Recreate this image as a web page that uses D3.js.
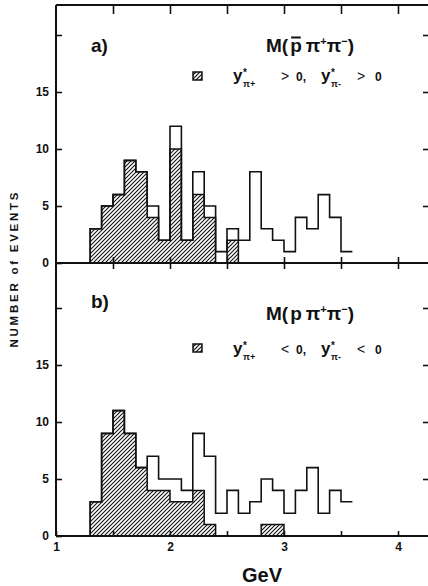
<!DOCTYPE html>
<html>
<head>
<meta charset="utf-8">
<script src="https://cdn.jsdelivr.net/npm/d3@7"></script>
<style>
  html, body { margin: 0; padding: 0; background: #fff; }
  svg { display: block; }
  text { font-family: "Liberation Sans", Arial, sans-serif; fill: #111; }
</style>
</head>
<body>
<svg id="chart" width="428" height="586"></svg>
<script>
// Lower edges of the 0.1 GeV mass bins (GeV)
const binLow = [1.3, 1.4, 1.5, 1.6, 1.7, 1.8, 1.9, 2.0, 2.1, 2.2, 2.3, 2.4,
                2.5, 2.6, 2.7, 2.8, 2.9, 3.0, 3.1, 3.2, 3.3, 3.4, 3.5];
const binWidth = 0.1;

// a) M(p̄ π+ π-): all events and the y* > 0 subset
const aTotal  = [3, 5, 6, 9, 8, 5, 2, 12, 2, 8, 5, 1, 3, 2, 8, 3, 2, 1, 4, 3, 6, 4, 1];
const aHashed = [3, 5, 6, 9, 8, 4, 2, 10, 2, 6, 4, 0, 2, 0, 0, 0, 0, 0, 0, 0, 0, 0, 0];

// b) M(p π+ π-): all events and the y* < 0 subset
const bTotal  = [3, 9, 11, 9, 6, 7, 5, 5, 4, 9, 7, 2, 4, 2, 3, 5, 4, 2, 4, 6, 2, 4, 3];
const bHashed = [3, 9, 11, 9, 6, 4, 4, 3, 3, 4, 1, 0, 0, 0, 0, 1, 1, 0, 0, 0, 0, 0, 0];

const yTicks = [0, 5, 10, 15, 20];
const xTicks = [1, 1.5, 2, 2.5, 3, 3.5, 4];
const xLabels = [1, 2, 3, 4];

const svg = d3.select("#chart");
const ink = "#111";

// Hatch for the selected-rapidity subset
const defs = svg.append("defs");
defs.append("pattern")
  .attr("id", "hatch")
  .attr("patternUnits", "userSpaceOnUse")
  .attr("width", 4).attr("height", 4)
  .append("path")
  .attr("d", "M-1,1 l2,-2 M0,4 l4,-4 M3,5 l2,-2")
  .attr("stroke", ink).attr("stroke-width", 1.1);

const frameL = 56, frameR = 429, frameT = 5;
const x = d3.scaleLinear().domain([1, 4]).range([frameL, 398]);

const panels = [
  { total: aTotal, hashed: aHashed, y: d3.scaleLinear().domain([0, 20]).range([263, 35]),
    tag: "a)", tagY: 52, titleY: 52, legY: 81, swY: 72, sign: ">", bar: true },
  { total: bTotal, hashed: bHashed, y: d3.scaleLinear().domain([0, 20]).range([536, 308]),
    tag: "b)", tagY: 308, titleY: 320, legY: 354, swY: 344, sign: "<", bar: false }
];

// Frame lines
svg.append("line").attr("x1", frameL).attr("x2", frameL).attr("y1", frameT).attr("y2", 536)
  .attr("stroke", ink).attr("stroke-width", 2);
svg.append("line").attr("x1", frameL).attr("x2", frameR).attr("y1", frameT).attr("y2", frameT)
  .attr("stroke", ink).attr("stroke-width", 2);

function styleAxis(g) {
  g.select(".domain").attr("stroke", ink).attr("stroke-width", 2);
  g.selectAll(".tick line").attr("stroke", ink).attr("stroke-width", 1.6);
  g.selectAll(".tick text")
    .attr("font-family", "'Liberation Sans', Arial, sans-serif")
    .attr("font-weight", "bold").attr("font-size", 12).attr("fill", ink);
}

// Top border ticks
svg.append("g").attr("transform", `translate(0,${frameT})`)
  .call(d3.axisBottom(x).tickValues(xTicks.slice(1)).tickSize(9).tickSizeOuter(0).tickFormat(""))
  .call(g => g.select(".domain").remove())
  .call(styleAxis);

panels.forEach((p) => {
  const y = p.y;
  const g = svg.append("g");

  // Hatched subset as a stepped area
  const hashedPts = binLow.map((b, i) => ({ x: b, v: p.hashed[i] }));
  hashedPts.push({ x: binLow[binLow.length - 1] + binWidth, v: 0 });
  const area = d3.area().x(d => x(d.x)).y0(y(0)).y1(d => y(d.v)).curve(d3.curveStepAfter);
  g.append("path").attr("d", area(hashedPts))
    .attr("fill", "url(#hatch)").attr("stroke", ink).attr("stroke-width", 1.5)
    .attr("stroke-linejoin", "miter");

  // Total distribution as an open step outline
  const totPts = [{ x: binLow[0], v: 0 }].concat(binLow.map((b, i) => ({ x: b, v: p.total[i] })));
  totPts.push({ x: binLow[binLow.length - 1] + binWidth, v: p.total[p.total.length - 1] });
  const line = d3.line().x(d => x(d.x)).y(d => y(d.v)).curve(d3.curveStepAfter);
  g.append("path").attr("d", line(totPts))
    .attr("fill", "none").attr("stroke", ink).attr("stroke-width", 1.6);

  // Left axis: ticks inward, labels outside
  svg.append("g").attr("transform", `translate(${frameL},0)`)
    .call(d3.axisLeft(y).tickValues(yTicks).tickSize(-6).tickPadding(7)
      .tickFormat(d => d === 20 ? "" : d))
    .call(a => a.select(".domain").remove())
    .call(styleAxis);

  // Right border ticks
  svg.append("g").attr("transform", `translate(${frameR},0)`)
    .call(d3.axisRight(y).tickValues(yTicks.slice(1)).tickSize(-6).tickFormat(""))
    .call(a => a.select(".domain").remove())
    .call(styleAxis);

  // Panel label
  svg.append("text").attr("x", 91).attr("y", p.tagY)
    .attr("font-weight", "bold").attr("font-size", 19).text(p.tag);

  // Mass title M(p π+ π-)
  const t = svg.append("text").attr("x", 266).attr("y", p.titleY)
    .attr("font-weight", "bold").attr("font-size", 19);
  t.append("tspan").text("M(");
  const pSpan = t.append("tspan").attr("dx", 2).text("p");
  t.append("tspan").attr("dx", 4).text("π");
  t.append("tspan").attr("dy", -7).attr("font-size", 11).text("+");
  t.append("tspan").attr("dy", 7).text("π");
  t.append("tspan").attr("dy", -7).attr("font-size", 11).text("−");
  t.append("tspan").attr("dy", 7).text(")");
  if (p.bar) {
    const pb = pSpan.node().getExtentOfChar(0);
    svg.append("line").attr("x1", pb.x + 1).attr("x2", pb.x + pb.width - 1)
      .attr("y1", p.titleY - 14.5).attr("y2", p.titleY - 14.5)
      .attr("stroke", ink).attr("stroke-width", 2);
  }

  // Legend swatch
  svg.append("rect").attr("x", 193).attr("y", p.swY).attr("width", 9).attr("height", 8)
    .attr("fill", "url(#hatch)").attr("stroke", ink).attr("stroke-width", 1.5);

  // Legend text: y*_{π+} ? 0, y*_{π-} ? 0
  const base = p.legY;
  const yStar = (x0, charge) => {
    svg.append("text").attr("x", x0).attr("y", base).attr("font-weight", "bold")
      .attr("font-size", 17).text("y");
    svg.append("text").attr("x", x0 + 10).attr("y", base - 5).attr("font-weight", "bold")
      .attr("font-size", 10).text("*");
    svg.append("text").attr("x", x0 + 10).attr("y", base + 6).attr("font-weight", "bold")
      .attr("font-size", 9).text("π" + charge);
  };
  yStar(233, "+");
  svg.append("text").attr("x", 281).attr("y", base).attr("font-size", 14).text(p.sign);
  svg.append("text").attr("x", 296).attr("y", base).attr("font-weight", "bold")
    .attr("font-size", 12).text("0,");
  yStar(321, "-");
  svg.append("text").attr("x", 357).attr("y", base).attr("font-size", 14).text(p.sign);
  svg.append("text").attr("x", 375).attr("y", base).attr("font-weight", "bold")
    .attr("font-size", 12).text("0");
});

// Shared axis between the panels: ticks cross the line
const mid = panels[0].y(0);
svg.append("g").attr("transform", `translate(0,${mid})`)
  .call(d3.axisBottom(x).tickValues(xTicks.slice(1)).tickSize(6).tickSizeOuter(0).tickFormat(""))
  .call(g => g.select(".domain").attr("d", `M${frameL},0H${frameR}`))
  .call(styleAxis);
svg.append("g").attr("transform", `translate(0,${mid})`)
  .call(d3.axisTop(x).tickValues(xTicks.slice(1)).tickSize(6).tickSizeOuter(0).tickFormat(""))
  .call(g => g.select(".domain").remove())
  .call(styleAxis);

// Bottom axis with GeV labels
const bot = panels[1].y(0);
svg.append("g").attr("transform", `translate(0,${bot})`)
  .call(d3.axisBottom(x).tickValues(xTicks).tickSize(-5).tickSizeOuter(0).tickPadding(6)
    .tickFormat(d => xLabels.includes(d) ? d : ""))
  .call(g => g.select(".domain").attr("d", `M${frameL},0H${frameR}`))
  .call(styleAxis);

svg.append("text").attr("x", 262).attr("y", 582).attr("text-anchor", "middle")
  .attr("font-weight", "bold").attr("font-size", 20).text("GeV");

// Vertical axis title
svg.append("text")
  .attr("transform", "translate(18,270) rotate(-90)")
  .attr("text-anchor", "middle")
  .attr("font-weight", "bold").attr("font-size", 11.5)
  .attr("textLength", 155).attr("lengthAdjust", "spacing")
  .text("NUMBER of EVENTS");
</script>
</body>
</html>
